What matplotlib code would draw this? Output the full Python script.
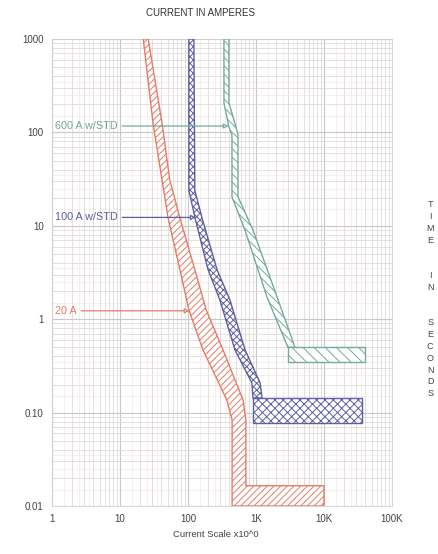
import matplotlib.pyplot as plt
import numpy as np
from matplotlib.ticker import FixedLocator, NullFormatter

# band edges: (current in A, time in s)
red_left = [(22, 1000), (30.6, 126), (41.5, 31), (51, 12.1), (76, 3.4), (103, 1.26),
            (166, 0.47), (373, 0.136), (445, 0.083), (445, 0.01)]
red_right = [(26, 1000), (41.5, 126), (54, 31), (76, 12.1), (126, 3.4), (185, 1.26),
             (327, 0.47), (646, 0.136), (710, 0.083), (710, 0.0165), (10000, 0.0165),
             (10000, 0.01)]

blue_left = [(103, 1000), (103, 24), (127, 12.1), (197, 3.4), (295, 1.6), (490, 0.47),
             (870, 0.208), (903, 0.143)]
blue_right = [(122, 1000), (126, 24), (161, 12.1), (267, 3.4), (415, 1.6), (690, 0.47),
              (1150, 0.208), (1230, 0.143)]
blue_box = (903, 36300, 0.0775, 0.143)

green_left = [(338, 1000), (338, 206), (400, 114), (443, 94), (443, 20.4), (689, 9),
              (1450, 1.73), (2950, 0.50)]
green_right = [(400, 1000), (400, 206), (508, 114), (543, 94), (543, 20.4), (903, 9),
               (2040, 1.73), (3740, 0.50)]
green_box = (2950, 40000, 0.348, 0.50)

labels = ['600 A w/STD', '100 A w/STD', '20 A']
label_y = [117, 12.3, 1.23]
label_tip = [395, 130, 105]

x_ticks = [1, 10, 100, 1000, 10000, 100000]
x_ticklabels = ['1', '10', '100', '1K', '10K', '100K']
y_ticks = [0.01, 0.1, 1, 10, 100, 1000]
y_ticklabels = ['0.01', '0.10', '1', '10', '100', '1000']

RED = '#e57a66'
BLUE = '#5e5ea0'
GREEN = '#74aa9c'

plt.rcParams['font.family'] = ['Liberation Sans', 'DejaVu Sans']
plt.rcParams['hatch.linewidth'] = 0.7
fig = plt.figure(figsize=(4.38, 5.54), dpi=100)
ax = fig.add_axes([0.1187, 0.0866, 0.7763, 0.843])
ax.set_xscale('log')
ax.set_yscale('log')
ax.set_xlim(1, 100000)
ax.set_ylim(0.01, 1000)

# graph paper grid
minor = [m * 10 ** e for e in range(-2, 5) for m in range(2, 10)]
ax.xaxis.set_minor_locator(FixedLocator(minor))
ax.yaxis.set_minor_locator(FixedLocator(minor))
ax.xaxis.set_minor_formatter(NullFormatter())
ax.yaxis.set_minor_formatter(NullFormatter())
ax.grid(which='major', color='#c8c8c8', lw=0.8)
ax.grid(which='minor', color='#dfdada', lw=0.6)
half = [m * 10 ** e for e in range(-2, 5) for m in (1.5, 2.5, 3.5)]
for v in half:
    ax.axvline(v, color='#f7e8e8', lw=0.5, zorder=0)
    ax.axhline(v, color='#f7e8e8', lw=0.5, zorder=0)
ax.set_axisbelow(True)
for s in ax.spines.values():
    s.set_color('#d0d0d0')
    s.set_linewidth(0.6)

def band(left, right, color, hatch):
    pts = list(left) + list(reversed(right))
    xs, ys = zip(*pts)
    ax.fill(xs, ys, facecolor='white', edgecolor=color, hatch=hatch, lw=1.0, zorder=3)

def box(b, color, hatch):
    x0, x1, y0, y1 = b
    ax.fill([x0, x1, x1, x0], [y0, y0, y1, y1], facecolor='white', edgecolor=color,
            hatch=hatch, lw=1.0, zorder=3)

band(red_left, red_right, RED, '/////')
band(green_left, green_right, GREEN, '\\\\\\\\')
box(green_box, GREEN, '\\\\\\')
band(blue_left, blue_right, BLUE, 'xxxxx')
box(blue_box, BLUE, 'xxxx')

for lab, yv, tip, c in zip(labels, label_y, label_tip, [GREEN, BLUE, RED]):
    ax.annotate(lab, xy=(tip, yv), xytext=(1.12, yv), color=c, fontsize=7.8,
                ha='left', va='center', zorder=5,
                arrowprops=dict(arrowstyle='-|>', color=c, lw=0.9, mutation_scale=7,
                                fc='white', shrinkA=1, shrinkB=0))

ax.set_xticks(x_ticks)
ax.set_xticklabels(x_ticklabels)
ax.set_yticks(y_ticks)
ax.set_yticklabels(y_ticklabels)
ax.tick_params(which='both', length=0, labelsize=7, colors='#444444', pad=6)

fig.text(0.457, 0.977, 'CURRENT IN AMPERES', ha='center', va='center', fontsize=7,
         color='#333333')
fig.text(0.493, 0.036, 'Current Scale x10^0', ha='center', va='center', fontsize=6.8,
         color='#444444')

letters = 'TIME  IN  SECONDS'
y = 1 - 205 / 554
for ch in letters:
    if ch != ' ':
        fig.text(0.982, y, ch, ha='center', va='center', fontsize=6.5, color='#444444')
    y -= 11.8 / 554

fig.savefig('out.png', dpi=100)
